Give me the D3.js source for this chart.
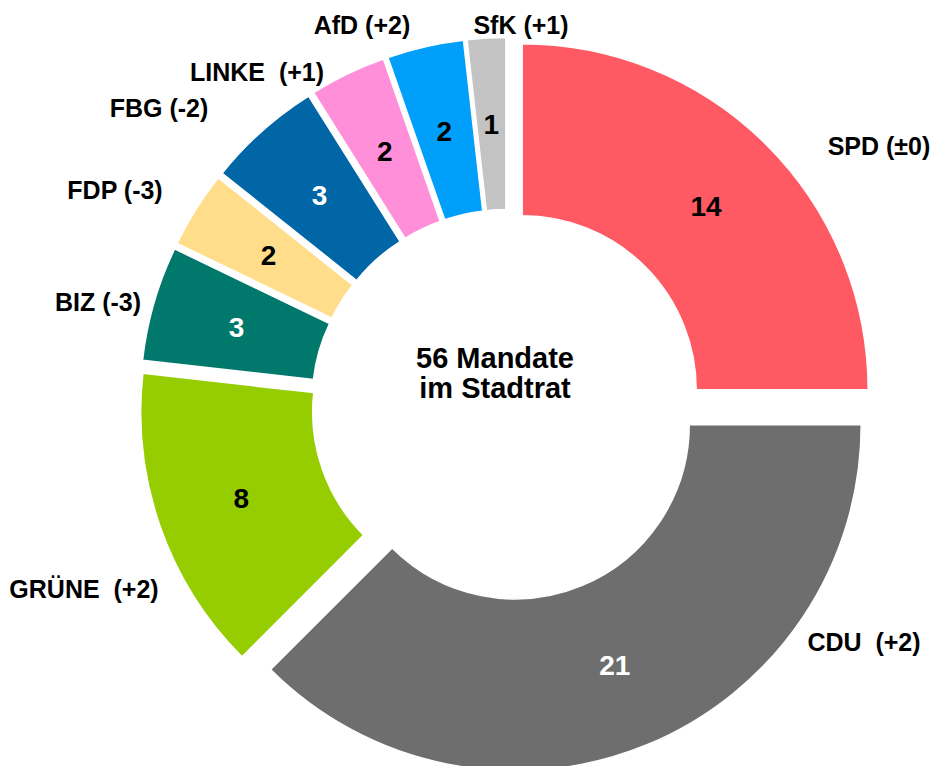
<!DOCTYPE html>
<html>
<head>
<meta charset="utf-8">
<script src="https://cdn.jsdelivr.net/npm/d3@7"></script>
<style>
  body { margin: 0; background: #fff; }
  text { font-family: "Liberation Sans", Arial, sans-serif; font-weight: bold; }
</style>
</head>
<body>
<svg id="chart" width="935" height="766"></svg>
<script>
// parties clockwise from 12 o'clock
var parties = ['SPD', 'CDU', 'GRÜNE', 'BIZ', 'FDP', 'FBG', 'LINKE', 'AfD', 'SfK'];
var seats = [14, 21, 8, 3, 2, 3, 2, 2, 1];
var changes = ['±0', '+2', '+2', '-3', '-3', '-2', '+1', '+2', '+1'];
var colors = ['#ff5a64', '#6e6e6e', '#95cd00', '#00786c', '#ffdd8a', '#0066a6', '#ff8fd8', '#00a0fa', '#c3c3c3'];
var valueColors = ['#000', '#fff', '#000', '#fff', '#000', '#fff', '#000', '#000', '#000'];
var centerLines = ['56 Mandate', 'im Stadtrat'];

// where the party names sit, relative to the donut centre
var nameOffsets = [[372, -259], [357, 237], [-423, 184], [-409, -103], [-392, -215],
    [-348, -297], [-250, -333], [-145, -380], [14, -380]];
var nameGaps = [' ', '  ', '  ', ' ', ' ', ' ', '  ', ' ', ' '];

var svg = d3.select('#chart');
var cx = 507, cy = 405;
var outerR = 346, innerR = 174;
var explode = 21.5;

var g = svg.append('g').attr('transform', 'translate(' + cx + ',' + cy + ')');

var data = parties.map(function(p, i) { return { party: p, seats: seats[i], i: i }; });

var pie = d3.pie()
    .sort(null)
    .value(function(d) { return d.seats; });

var arc = d3.arc()
    .innerRadius(innerR)
    .outerRadius(outerR);

var arcs = pie(data);

var shift = function(d) {
    var a = (d.startAngle + d.endAngle) / 2;
    return [Math.sin(a) * explode, -Math.cos(a) * explode];
};

var slices = g.selectAll('.slice')
    .data(arcs)
    .enter()
    .append('g')
    .attr('class', 'slice')
    .attr('transform', function(d) {
        var s = shift(d);
        return 'translate(' + s[0] + ',' + s[1] + ')';
    });

slices.append('path')
    .attr('d', arc)
    .attr('fill', function(d) { return colors[d.data.i]; })
    .attr('stroke', '#fff')
    .attr('stroke-width', 1.5);

slices.append('text')
    .attr('transform', function(d) { return 'translate(' + arc.centroid(d) + ')'; })
    .attr('text-anchor', 'middle')
    .attr('dy', '0.36em')
    .attr('font-size', 28)
    .attr('fill', function(d) { return valueColors[d.data.i]; })
    .text(function(d) { return d.data.seats; });

g.selectAll('.name')
    .data(arcs)
    .enter()
    .append('text')
    .attr('class', 'name')
    .attr('x', function(d) { return nameOffsets[d.data.i][0]; })
    .attr('y', function(d) { return nameOffsets[d.data.i][1]; })
    .attr('text-anchor', 'middle')
    .attr('dy', '0.36em')
    .attr('font-size', 25)
    .attr('fill', '#000')
    .style('white-space', 'pre')
    .text(function(d) { return d.data.party + nameGaps[d.data.i] + '(' + changes[d.data.i] + ')'; });

g.append('text')
    .attr('text-anchor', 'middle')
    .attr('font-size', 29)
    .attr('fill', '#000')
    .selectAll('tspan')
    .data(centerLines)
    .enter()
    .append('tspan')
    .attr('x', -12)
    .attr('y', function(d, i) { return -47 + i * 30; })
    .attr('dy', '0.36em')
    .text(function(d) { return d; });
</script>
</body>
</html>
